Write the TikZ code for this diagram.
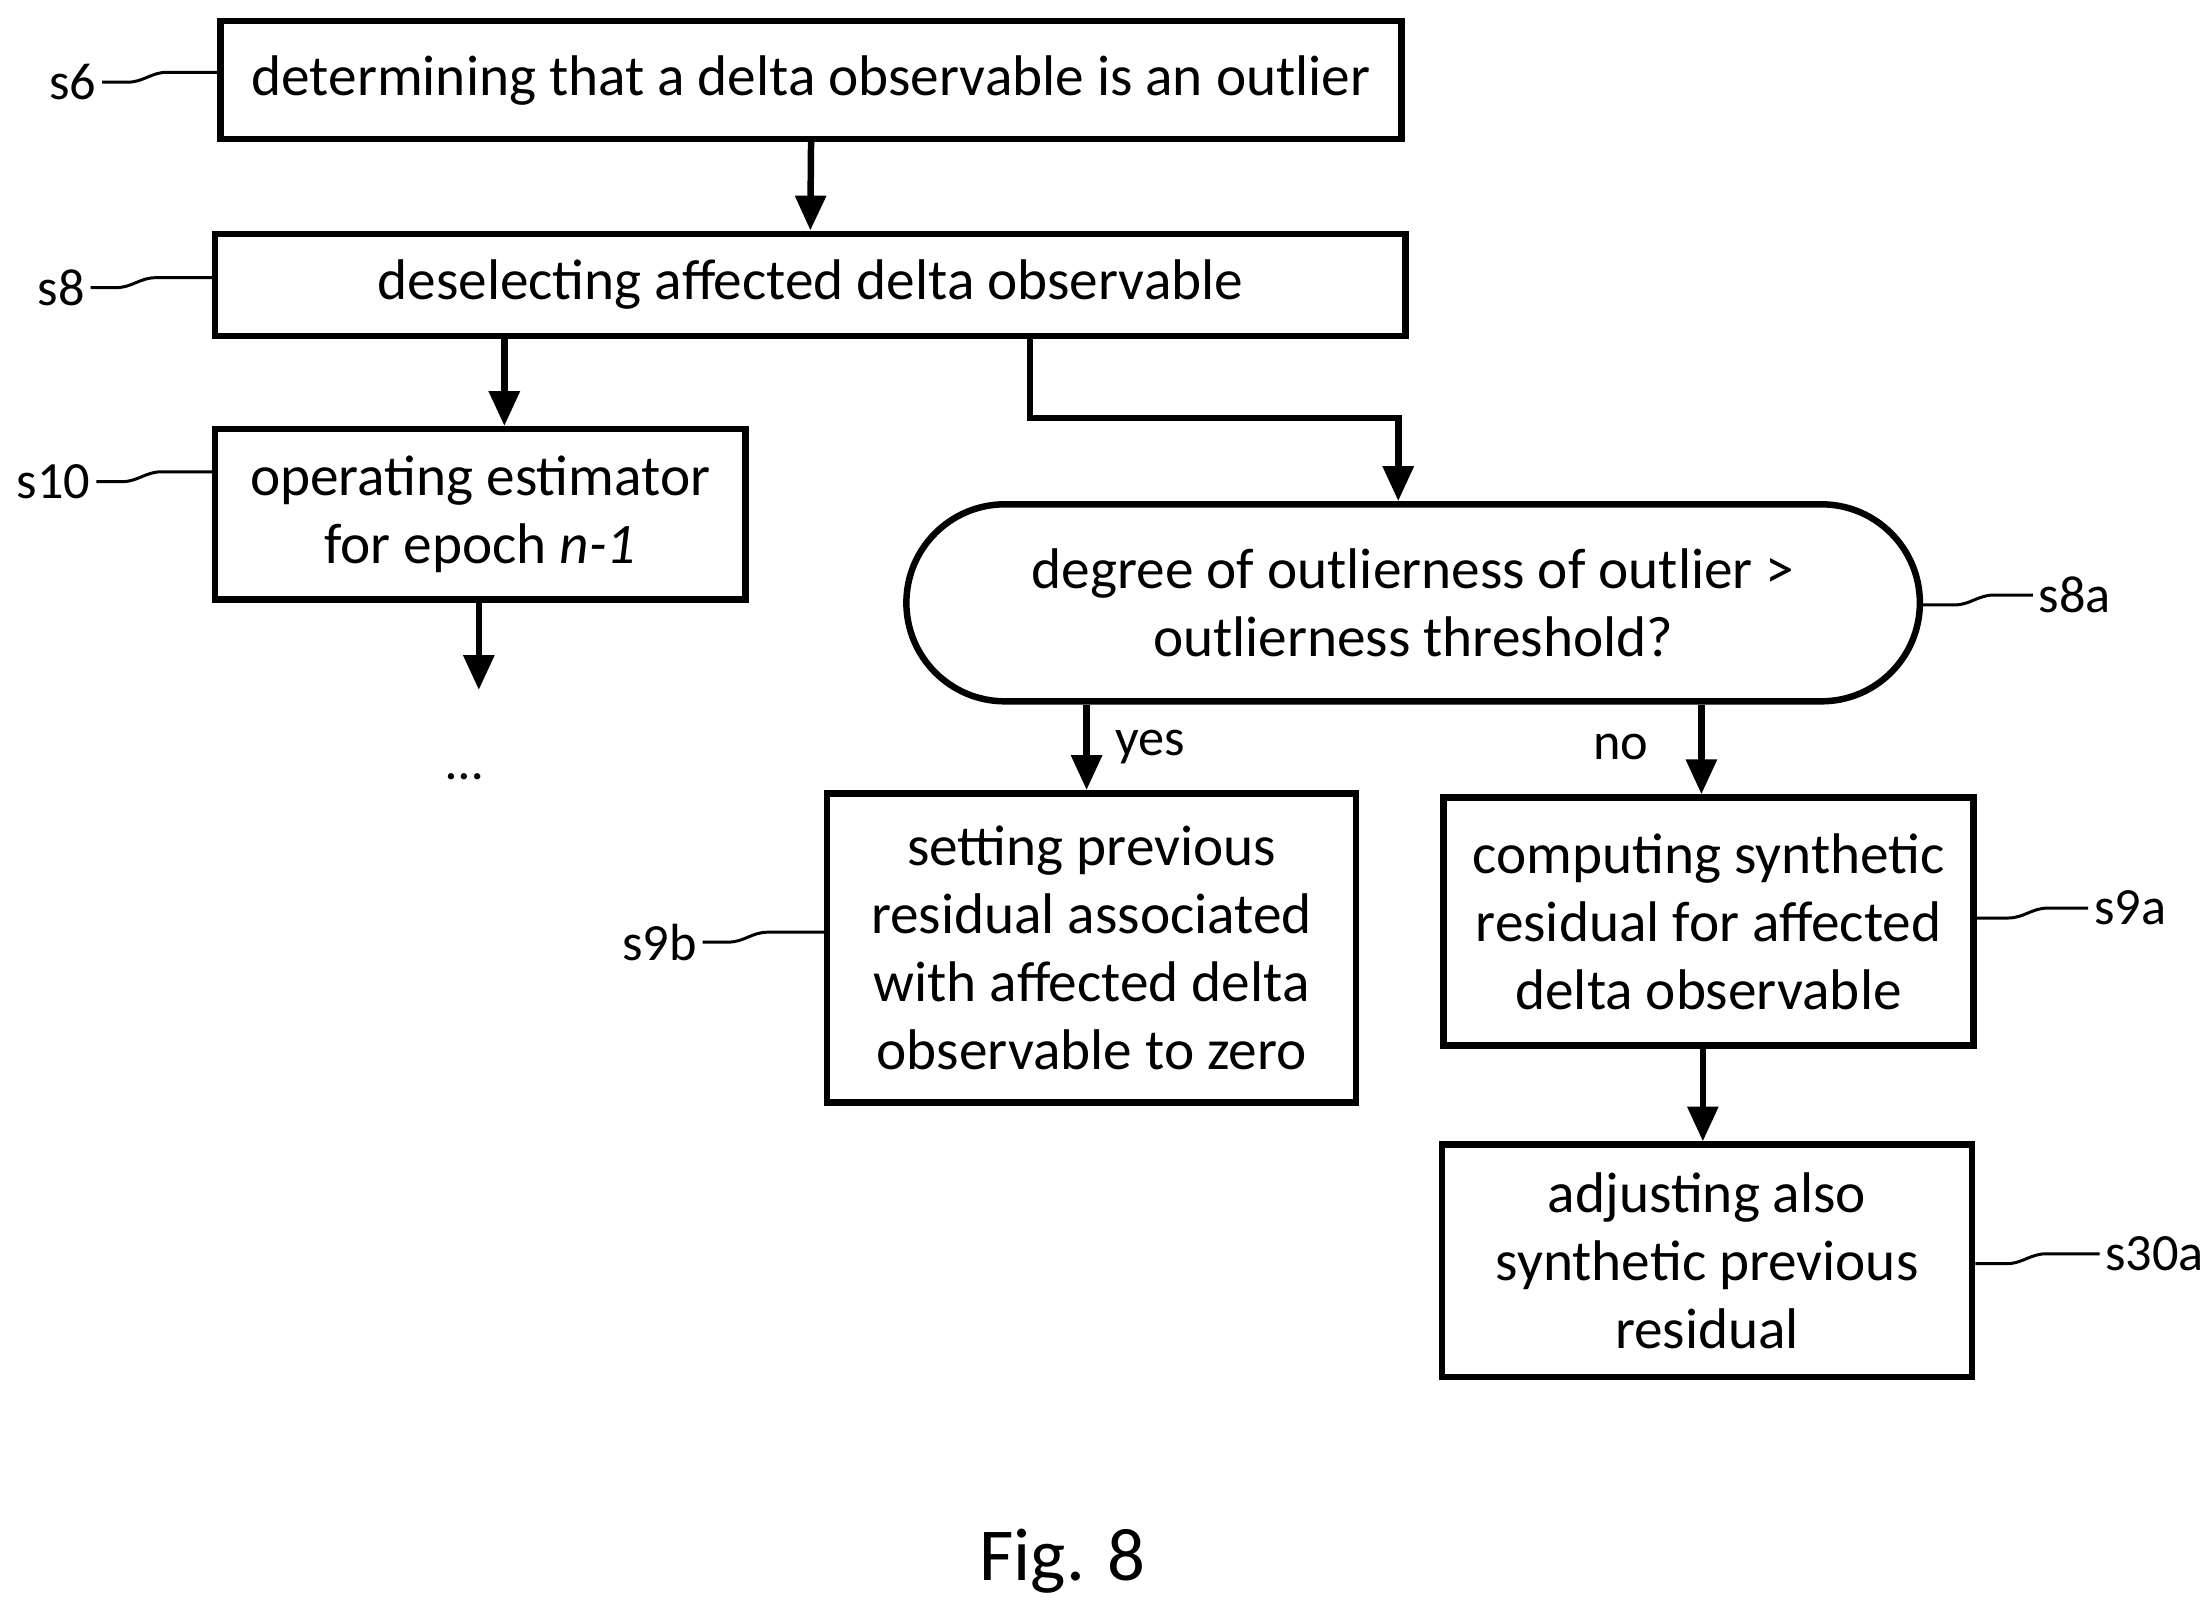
\documentclass[tikz,border=0pt]{standalone}
\usepackage{fontspec}
\setmainfont{Carlito}
\usetikzlibrary{calc,arrows.meta}
\begin{document}
\begin{tikzpicture}[x=0.01cm,y=-0.01cm,
  box/.style={draw,line width=1.3pt,align=center,inner sep=0pt,font=\fontsize{11.5}{13.6}\selectfont},
  lab/.style={font=\fontsize{10.5}{12}\selectfont,inner sep=1pt},
  arr/.style={line width=1.3pt,-{Triangle[length=7pt,width=6pt]}},
  sq/.style={line width=0.6pt}]
\useasboundingbox (0,0) rectangle (1560,1135);
\node[box,minimum width=8.33cm,minimum height=0.83cm] (s6) at (572.5,56.5) {determining that a delta observable is an outlier};
\node[box,minimum width=8.40cm,minimum height=0.72cm] (s8) at (572,201) {deselecting affected delta observable};
\node[box,minimum width=3.74cm,minimum height=1.20cm] (s10) at (339,363) {operating estimator\\for epoch \textit{n-1}};
\node[box,minimum width=7.15cm,minimum height=1.39cm,rounded corners=0.695cm] (s8a) at (997.5,425.5) {degree of outlierness of outlier >\\outlierness threshold?};
\node[box,minimum width=3.73cm,minimum height=2.18cm] (s9b) at (770.5,669) {setting previous\\residual associated\\with affected delta\\observable to zero};
\node[box,minimum width=3.74cm,minimum height=1.75cm] (s9a) at (1206,650.5) {computing synthetic\\residual for affected\\delta observable};
\node[box,minimum width=3.74cm,minimum height=1.64cm] (s30a) at (1205,890) {adjusting also\\synthetic previous\\residual};
\node[lab] (dots) at (328,548) {\dots};
\coordinate (e10) at (338,487);
\node[lab] (yes) at (812,527) {yes};
\node[lab] (no) at (1144,527) {no};
\node[font=\fontsize{15}{18}\selectfont] (fig) at (750,1102) {Fig. 8};
\node[lab,anchor=east] (l6) at (72,58) {s6};
\node[lab,anchor=east] (l8) at (64,203) {s8};
\node[lab,anchor=east] (l10) at (68,340) {s10};
\node[lab,anchor=west] (l8a) at (1435,420) {s8a};
\node[lab,anchor=east] (l9b) at (496,665) {s9b};
\node[lab,anchor=west] (l9a) at (1474,641) {s9a};
\node[lab,anchor=west] (l30a) at (1482,885) {s30a};
\draw[arr] (s6.south) -- (s8.north);
\draw[arr] (s8.south -| 356,0) -- (s10.north -| 356,0);
\draw[arr] (s10.south -| e10) -- (e10);
\draw[arr] (s8.south -| 727,0) -- (727,295) -- (987,295) -- (s8a.north -| 987,0);
\draw[arr] (s8a.south -| 767,0) -- (s9b.north -| 767,0);
\draw[arr] (s8a.south -| 1201,0) -- (s9a.north -| 1201,0);
\draw[arr] (s9a.south -| 1202,0) -- (s30a.north -| 1202,0);
\foreach \a/\b in {l6/s6,l8/s8,l10/s10,l9b/s9b}{
  \draw[sq] (\a.east) -- ++(18,0) to[out=0,in=180] ++(28,-7) -- ($(\a.east -| \b.west)+(0,-7)$);}
\foreach \a/\b in {l8a/s8a,l9a/s9a,l30a/s30a}{
  \draw[sq] ($(\a.west -| \b.east)+(0,7)$) -- ++(22,0) to[out=0,in=180] ++(28,-7) -- (\a.west);}
\end{tikzpicture}
\end{document}
